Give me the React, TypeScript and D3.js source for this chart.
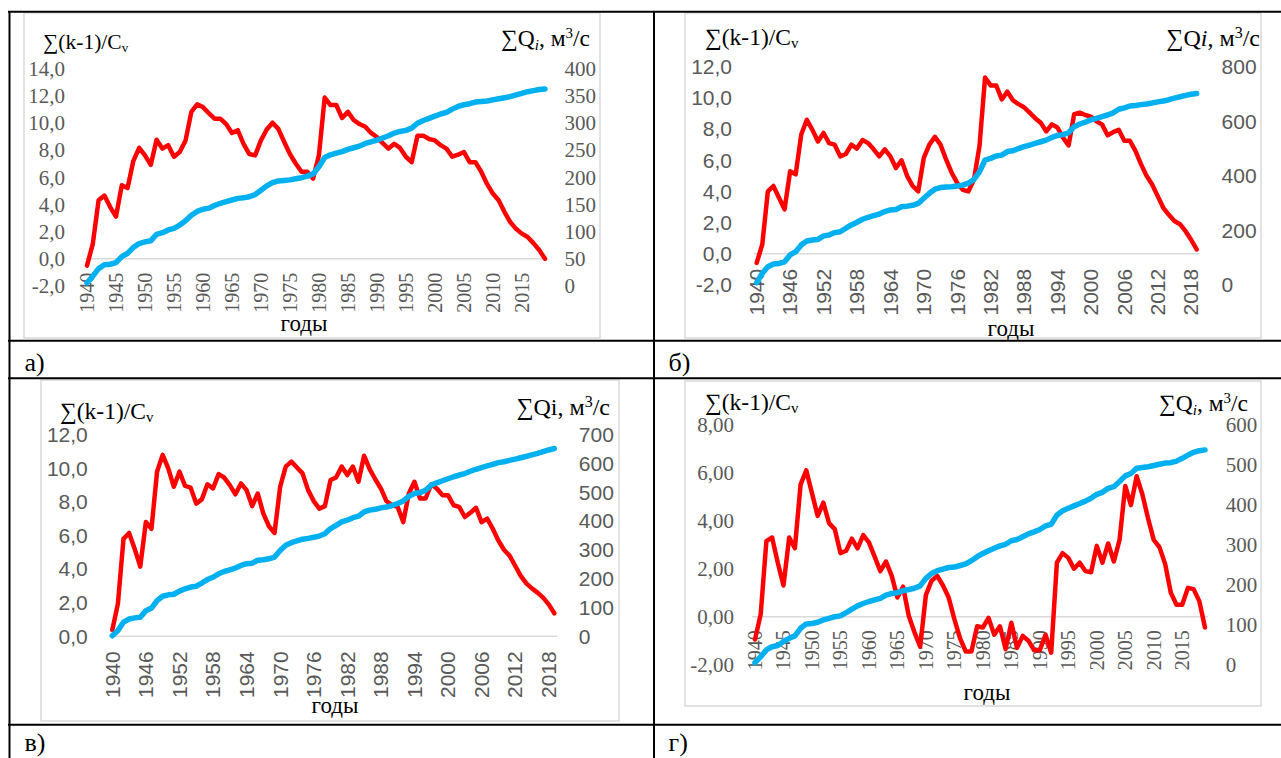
import React from "react";
import * as d3 from "d3";

// categories
const years = d3.range(1940, 2020);

// panel а
const redA = [
  -0.5, 1.1, 4.3, 4.65, 3.8, 3.1, 5.4, 5.2, 7.2, 8.15,
  7.6, 6.9, 8.75, 8.1, 8.35, 7.5, 7.85, 8.7, 10.8, 11.35,
  11.15, 10.7, 10.3, 10.3, 9.9, 9.25, 9.45, 8.45, 7.7, 7.6,
  8.7, 9.5, 10.0, 9.55, 8.6, 7.7, 7.0, 6.4, 6.4, 5.9,
  7.6, 11.85, 11.3, 11.3, 10.35, 10.8, 10.2, 9.9, 9.7, 9.25,
  8.95, 8.5, 8.1, 8.45, 8.15, 7.5, 7.1, 9.05, 9.05, 8.8,
  8.7, 8.35, 8.1, 7.5, 7.65, 7.85, 7.1, 7.1, 6.4, 5.5,
  4.8, 4.3, 3.45, 2.7, 2.2, 1.85, 1.6, 1.15, 0.65, 0.0,
];
const blueA = [
  6, 18, 32, 39, 40, 43, 54, 60, 71, 78,
  81, 83, 95, 98, 103, 106, 112, 120, 130, 137,
  141, 143, 148, 152, 155, 158, 161, 162, 164, 168,
  176, 184, 190, 193, 194, 195, 197, 199, 202, 206,
  219, 236, 241, 244, 247, 251, 254, 257, 262, 265,
  268, 272, 276, 281, 284, 286, 290, 299, 304, 308,
  312, 316, 319, 325, 330, 333, 335, 338, 339, 340,
  342, 344, 346, 348, 351, 354, 357, 359, 361, 362,
];

// panel б
const redB = [
  -0.58, 0.6, 4.0, 4.35, 3.6, 2.85, 5.3, 5.1, 7.65, 8.6,
  7.95, 7.2, 7.75, 7.1, 7.0, 6.25, 6.4, 7.0, 6.75, 7.3,
  7.1, 6.7, 6.25, 6.7, 6.25, 5.5, 6.0, 5.0, 4.35, 4.0,
  6.15, 7.0, 7.5, 7.0, 6.05, 5.2, 4.55, 4.1, 4.0, 4.75,
  6.9, 11.3, 10.8, 10.8, 9.9, 10.4, 9.85, 9.6, 9.4, 9.05,
  8.7, 8.4, 7.85, 8.3, 8.1, 7.45, 6.95, 8.95, 9.05, 8.9,
  8.8, 8.5, 8.3, 7.6, 7.8, 7.95, 7.25, 7.25, 6.6, 5.75,
  5.0, 4.45, 3.7, 2.95, 2.5, 2.1, 1.9, 1.45, 0.9, 0.28,
];
const blueB = [
  9, 43, 67, 77, 79, 85, 110, 122, 147, 161,
  165, 167, 180, 183, 192, 195, 208, 220, 230, 241,
  248, 254, 260, 269, 275, 277, 287, 289, 292, 299,
  318, 336, 351, 357, 359, 360, 363, 366, 373, 387,
  415, 458, 464, 473, 476, 489, 492, 500, 507, 513,
  519, 525, 531, 541, 548, 551, 558, 580, 590, 597,
  605, 611, 617, 623, 631, 644, 649, 656, 658, 661,
  663, 667, 671, 674, 679, 685, 690, 695, 699, 702,
];

// panel в
const redV = [
  0.38, 1.93, 5.8, 6.15, 5.2, 4.15, 6.8, 6.4, 9.8, 10.8,
  10.0, 8.9, 9.8, 8.95, 8.85, 7.9, 8.15, 9.05, 8.8, 9.65,
  9.45, 9.0, 8.45, 9.1, 8.7, 7.75, 8.5, 7.3, 6.55, 6.15,
  8.9, 10.1, 10.4, 10.05, 9.7, 8.7, 8.05, 7.6, 7.75, 9.3,
  9.45, 10.1, 9.6, 10.1, 9.2, 10.75, 9.95, 9.35, 8.8, 8.05,
  7.8, 7.7, 6.8, 8.5, 9.2, 8.2, 8.2, 9.05, 8.8, 8.4,
  8.4, 7.8, 7.7, 7.1, 7.35, 7.65, 6.8, 7.0, 6.4, 5.7,
  5.15, 4.8, 4.2, 3.6, 3.15, 2.85, 2.6, 2.3, 1.9, 1.37,
];
const blueV = [
  2, 20, 49, 60, 64, 66, 89, 98, 124, 139,
  144, 146, 157, 165, 171, 174, 185, 197, 205, 217,
  225, 231, 237, 246, 252, 254, 264, 266, 269, 275,
  298, 316, 325, 331, 337, 340, 344, 348, 356, 374,
  385, 397, 403, 412, 417, 432, 438, 441, 446, 449,
  454, 461, 470, 486, 496, 499, 507, 525, 533, 540,
  547, 554, 560, 565, 573, 580, 586, 592, 597, 603,
  606, 611, 615, 620, 625, 630, 635, 641, 647, 652,
];

// panel г
const redG = [
  -0.95, 0.1, 3.15, 3.3, 2.25, 1.3, 3.3, 2.85, 5.5, 6.1,
  5.15, 4.2, 4.75, 3.9, 3.65, 2.65, 2.75, 3.25, 2.85, 3.4,
  3.1, 2.5, 1.9, 2.3, 1.7, 0.8, 1.25, 0.03, -0.65, -1.25,
  0.9, 1.5, 1.7, 1.3, 0.8, -0.1, -0.9, -1.45, -1.45, -0.4,
  -0.45, -0.05, -0.75, -0.4, -1.35, -0.25, -1.3, -0.8, -1.0, -1.4,
  -1.4, -0.75, -1.5, 2.25, 2.65, 2.45, 2.0, 2.25, 1.9, 1.85,
  2.95, 2.25, 3.05, 2.3, 3.2, 5.45, 4.65, 5.85, 5.1, 4.1,
  3.2, 2.9, 2.2, 1.0, 0.5, 0.5, 1.2, 1.15, 0.65, -0.45,
];
const blueG = [
  5, 20, 37, 45, 48, 58, 66, 72, 91, 102,
  103, 106, 112, 116, 120, 122, 130, 139, 147, 153,
  158, 162, 166, 174, 178, 180, 185, 188, 191, 197,
  216, 228, 235, 239, 243, 244, 248, 252, 260, 270,
  278, 285, 291, 297, 301, 310, 313, 320, 327, 332,
  338, 347, 351, 374, 385, 391, 397, 403, 409, 416,
  426, 431, 441, 445, 458, 472, 478, 491, 493, 495,
  498, 501, 504, 505, 509, 516, 524, 531, 535, 537,
];

// tick labels
const leftTicksA = [-2, 0, 2, 4, 6, 8, 10, 12, 14];
const rightTicksA = [0, 50, 100, 150, 200, 250, 300, 350, 400];
const leftTicksB = [-2, 0, 2, 4, 6, 8, 10, 12];
const rightTicksB = [0, 200, 400, 600, 800];
const leftTicksV = [0, 2, 4, 6, 8, 10, 12];
const rightTicksV = [0, 100, 200, 300, 400, 500, 600, 700];
const leftTicksG = [-2, 0, 2, 4, 6, 8];
const rightTicksG = [0, 100, 200, 300, 400, 500, 600];
const yearTicks5 = [1940, 1945, 1950, 1955, 1960, 1965, 1970, 1975, 1980, 1985, 1990, 1995, 2000, 2005, 2010, 2015];
const yearTicks6 = [1940, 1946, 1952, 1958, 1964, 1970, 1976, 1982, 1988, 1994, 2000, 2006, 2012, 2018];

const serif = "'Liberation Serif', 'Times New Roman', serif";
const sans = "'Liberation Sans', Arial, sans-serif";
const GREY = "#595959";
const RED = "#FF0000";
const BLUE = "#00B0F0";

type PanelProps = {
  red: number[];
  blue: number[];
  leftTicks: number[];
  rightTicks: number[];
  yearTicks: number[];
  digits: number;
  x0: number;
  x1: number;
  yTop: number;
  yBottom: number;
  leftLabelX: number;
  rightLabelX: number;
  tickFont: string;
  tickSize: number;
  yearSize: number;
  yearOffset: number;
  box: [number, number, number, number];
  leftTitle: [number, number, number];
  rightTitle: [number, number, number];
  qKind: "sub" | "italic" | "plain";
  gody: [number, number];
};

const Panel: React.FC<PanelProps> = (p) => {
  const x = d3.scaleLinear().domain([1940, 2019]).range([p.x0, p.x1]);
  const yL = d3
    .scaleLinear()
    .domain(d3.extent(p.leftTicks) as [number, number])
    .range([p.yBottom, p.yTop]);
  const yR = d3
    .scaleLinear()
    .domain(d3.extent(p.rightTicks) as [number, number])
    .range([p.yBottom, p.yTop]);
  const half = (p.x1 - p.x0) / 79 / 2;
  const fmt = (v: number) => v.toFixed(p.digits).replace(".", ",");

  const redPath = d3
    .line<number>()
    .x((_, i) => x(years[i]))
    .y((d) => yL(d))(p.red);
  const bluePath = d3
    .line<number>()
    .x((_, i) => x(years[i]))
    .y((d) => yR(d))(p.blue);

  const [lx, ly, ls] = p.leftTitle;
  const [rx, ry, rs] = p.rightTitle;
  const small = Math.round(rs * 0.65);

  return (
    <g>
      <rect
        x={p.box[0]}
        y={p.box[1]}
        width={p.box[2]}
        height={p.box[3]}
        fill="#fff"
        stroke="#d9d9d9"
        strokeWidth={1.5}
      />
      <line
        x1={p.x0 - half}
        x2={p.x1 + half}
        y1={yL(0)}
        y2={yL(0)}
        stroke="#d9d9d9"
        strokeWidth={1.5}
      />
      {p.leftTicks.map((t) => (
        <text
          key={"l" + t}
          x={p.leftLabelX}
          y={yL(t)}
          dy="0.35em"
          textAnchor="end"
          fontFamily={p.tickFont}
          fontSize={p.tickSize}
          fill={GREY}
        >
          {fmt(t)}
        </text>
      ))}
      {p.rightTicks.map((t) => (
        <text
          key={"r" + t}
          x={p.rightLabelX}
          y={yR(t)}
          dy="0.35em"
          textAnchor="start"
          fontFamily={p.tickFont}
          fontSize={p.tickSize}
          fill={GREY}
        >
          {t}
        </text>
      ))}
      {p.yearTicks.map((yr) => (
        <text
          key={"y" + yr}
          transform={`translate(${x(yr)},${yL(0) + p.yearOffset}) rotate(-90)`}
          dy="0.35em"
          textAnchor="end"
          fontFamily={p.tickFont}
          fontSize={p.yearSize}
          fill={GREY}
        >
          {yr}
        </text>
      ))}
      <path d={redPath ?? ""} fill="none" stroke={RED} strokeWidth={4.5} strokeLinejoin="round" strokeLinecap="round" />
      <path d={bluePath ?? ""} fill="none" stroke={BLUE} strokeWidth={5.5} strokeLinejoin="round" strokeLinecap="round" />
      <text x={lx} y={ly} fontFamily={serif} fontSize={ls} fill="#000">
        ∑(k-1)/C
        <tspan fontSize={Math.round(ls * 0.62)} dy={3}>
          v
        </tspan>
      </text>
      <text x={rx} y={ry} textAnchor="end" fontFamily={serif} fontSize={rs} fill="#000">
        {p.qKind === "plain" ? "∑Qi" : "∑Q"}
        {p.qKind === "sub" && (
          <tspan fontStyle="italic" fontSize={small} dy={4}>
            i
          </tspan>
        )}
        {p.qKind === "italic" && <tspan fontStyle="italic">i</tspan>}
        <tspan dy={p.qKind === "sub" ? -4 : 0}>, м</tspan>
        <tspan fontSize={small} dy={-8}>
          3
        </tspan>
        <tspan dy={8}>/с</tspan>
      </text>
      <text
        x={p.gody[0]}
        y={p.gody[1]}
        textAnchor="middle"
        fontFamily={serif}
        fontSize={23}
        fill="#000"
      >
        годы
      </text>
    </g>
  );
};

const App: React.FC = () => {
  return (
    <svg
      width={1281}
      height={758}
      style={{ position: "absolute", left: 0, top: 0, background: "#fff" }}
    >
      <rect x={0} y={0} width={1281} height={758} fill="#fff" />

      <Panel
        red={redA}
        blue={blueA}
        leftTicks={leftTicksA}
        rightTicks={rightTicksA}
        yearTicks={yearTicks5}
        digits={1}
        x0={87}
        x1={545}
        yTop={68.3}
        yBottom={286}
        leftLabelX={65}
        rightLabelX={564.5}
        tickFont={serif}
        tickSize={21}
        yearSize={20}
        yearOffset={14}
        box={[24, 13, 576, 325]}
        leftTitle={[43, 48.5, 21.5]}
        rightTitle={[590, 46, 23.5]}
        qKind="sub"
        gody={[304, 331]}
      />
      <Panel
        red={redB}
        blue={blueB}
        leftTicks={leftTicksB}
        rightTicks={rightTicksB}
        yearTicks={yearTicks6}
        digits={1}
        x0={756.7}
        x1={1196.7}
        yTop={66.7}
        yBottom={285}
        leftLabelX={732}
        rightLabelX={1221.6}
        tickFont={sans}
        tickSize={21}
        yearSize={21}
        yearOffset={15}
        box={[685, 13, 576, 325]}
        leftTitle={[705, 44.5, 23.5]}
        rightTitle={[1260, 46, 24]}
        qKind="italic"
        gody={[1011, 336]}
      />
      <Panel
        red={redV}
        blue={blueV}
        leftTicks={leftTicksV}
        rightTicks={rightTicksV}
        yearTicks={yearTicks6}
        digits={1}
        x0={112.3}
        x1={554.3}
        yTop={434.7}
        yBottom={636.3}
        leftLabelX={87.8}
        rightLabelX={578.8}
        tickFont={sans}
        tickSize={21}
        yearSize={21}
        yearOffset={15}
        box={[41, 380, 578, 341]}
        leftTitle={[60, 418.5, 23.5]}
        rightTitle={[610, 414.5, 24]}
        qKind="plain"
        gody={[335, 713]}
      />
      <Panel
        red={redG}
        blue={blueG}
        leftTicks={leftTicksG}
        rightTicks={rightTicksG}
        yearTicks={yearTicks5}
        digits={2}
        x0={755}
        x1={1205}
        yTop={424.7}
        yBottom={664.7}
        leftLabelX={734}
        rightLabelX={1225.7}
        tickFont={serif}
        tickSize={21}
        yearSize={20}
        yearOffset={13.5}
        box={[685, 381, 576, 325]}
        leftTitle={[705, 410, 23.5]}
        rightTitle={[1248, 410.5, 23.5]}
        qKind="sub"
        gody={[987, 700]}
      />

      {/* table grid */}
      <g stroke="#000" strokeWidth={2}>
        <line x1={8} x2={1281} y1={11.7} y2={11.7} />
        <line x1={8} x2={1281} y1={340.7} y2={340.7} />
        <line x1={8} x2={1281} y1={378.3} y2={378.3} />
        <line x1={8} x2={1281} y1={724.7} y2={724.7} />
        <line x1={9.5} x2={9.5} y1={11} y2={758} />
        <line x1={654} x2={654} y1={11} y2={758} />
      </g>
      <g fontFamily={serif} fontSize={26} fill="#000">
        <text x={24.5} y={371}>а)</text>
        <text x={668.6} y={371}>б)</text>
        <text x={24.5} y={751}>в)</text>
        <text x={668.6} y={751}>г)</text>
      </g>
    </svg>
  );
};

export default App;
